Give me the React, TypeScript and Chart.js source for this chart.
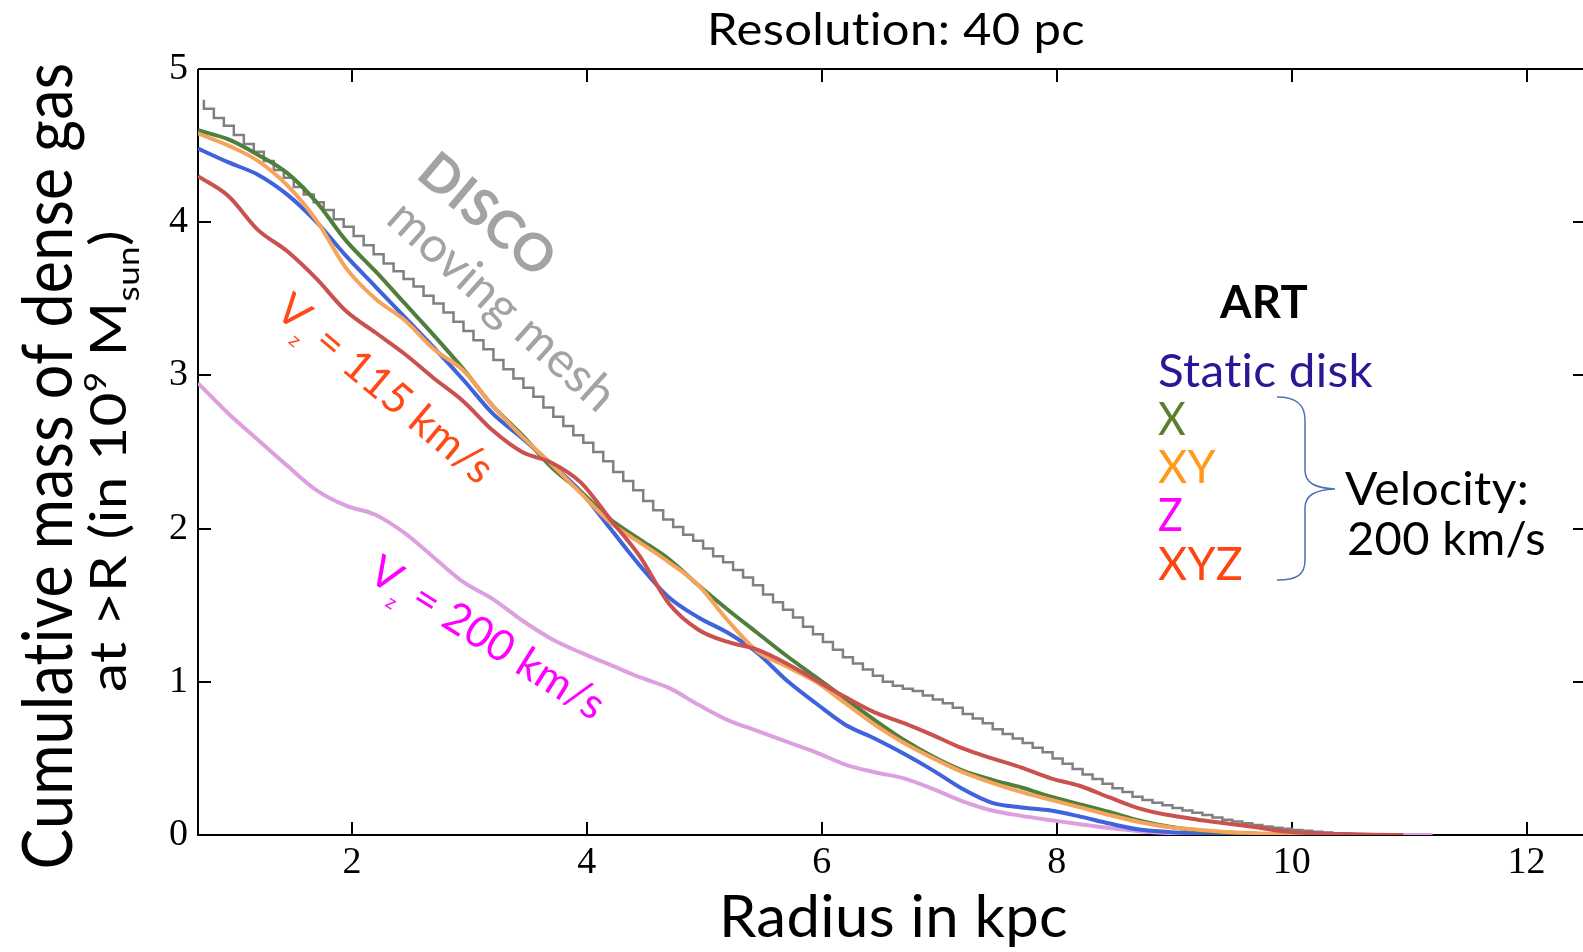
import React, { useEffect, useRef } from "react";
import { Chart, registerables } from "chart.js";
Chart.register(...registerables);

// ---- data (radius in kpc, cumulative mass in 1e9 Msun) ----
const RADIUS = [0.69, 0.95, 1.2, 1.45, 1.7, 1.95, 2.2, 2.45, 2.7, 2.95, 3.2, 3.45, 3.7, 3.95, 4.2, 4.45, 4.7, 4.95, 5.2, 5.45, 5.7, 5.95, 6.2, 6.45, 6.7, 6.95, 7.2, 7.45, 7.7, 7.95, 8.2, 8.45, 8.7, 8.95, 9.2, 9.45, 9.7, 9.95, 10.2, 10.45, 10.7, 10.95, 11.2];

const STATIC_DISK = [4.48, 4.39, 4.31, 4.18, 4.0, 3.78, 3.58, 3.38, 3.18, 2.97, 2.75, 2.59, 2.42, 2.24, 2.0, 1.76, 1.55, 1.42, 1.32, 1.19, 1.01, 0.86, 0.72, 0.63, 0.53, 0.42, 0.3, 0.21, 0.18, 0.16, 0.12, 0.075, 0.036, 0.02, 0.01, 0.004, 0, 0, 0, 0, 0, null, null];
const KICK_X = [4.6, 4.54, 4.44, 4.32, 4.13, 3.88, 3.68, 3.47, 3.26, 3.04, 2.8, 2.61, 2.4, 2.24, 2.06, 1.93, 1.8, 1.63, 1.47, 1.32, 1.17, 1.03, 0.89, 0.75, 0.62, 0.51, 0.42, 0.36, 0.31, 0.25, 0.2, 0.15, 0.095, 0.055, 0.03, 0.016, 0.007, 0.002, 0, 0, 0, null, null];
const KICK_XY = [4.58, 4.5, 4.4, 4.24, 4.01, 3.7, 3.5, 3.36, 3.17, 3.03, 2.8, 2.6, 2.42, 2.23, 2.04, 1.91, 1.78, 1.63, 1.4, 1.2, 1.1, 1.0, 0.86, 0.72, 0.6, 0.5, 0.41, 0.34, 0.28, 0.23, 0.18, 0.13, 0.085, 0.052, 0.035, 0.02, 0.012, 0.005, 0.001, 0, 0, null, null];
const KICK_Z = [2.95, 2.75, 2.58, 2.41, 2.25, 2.15, 2.09, 1.97, 1.81, 1.65, 1.54, 1.4, 1.28, 1.19, 1.11, 1.03, 0.96, 0.85, 0.75, 0.68, 0.61, 0.54, 0.46, 0.41, 0.37, 0.3, 0.22, 0.16, 0.125, 0.097, 0.07, 0.045, 0.025, 0.013, 0.008, 0.005, 0.003, 0.002, 0.001, 0.001, 0, 0, 0];
const KICK_XYZ = [4.3, 4.17, 3.95, 3.81, 3.63, 3.42, 3.28, 3.14, 2.98, 2.83, 2.64, 2.5, 2.43, 2.3, 2.06, 1.82, 1.51, 1.34, 1.26, 1.21, 1.12, 1.01, 0.9, 0.8, 0.73, 0.65, 0.565, 0.5, 0.44, 0.37, 0.32, 0.245, 0.174, 0.13, 0.1, 0.075, 0.05, 0.022, 0.012, 0.006, 0.002, 0, null];

// DISCO moving mesh: histogram bins
const DISCO_START = 0.74;
const DISCO_BIN = 0.085;
const DISCO = [4.8, 4.74, 4.68, 4.63, 4.57, 4.51, 4.46, 4.4, 4.34, 4.29, 4.23, 4.18, 4.13, 4.08, 4.02, 3.97, 3.91, 3.85, 3.79, 3.73, 3.68, 3.63, 3.58, 3.52, 3.47, 3.41, 3.35, 3.29, 3.23, 3.17, 3.1, 3.04, 2.98, 2.92, 2.86, 2.79, 2.73, 2.67, 2.61, 2.56, 2.5, 2.44, 2.37, 2.31, 2.25, 2.18, 2.12, 2.06, 2.01, 1.96, 1.92, 1.87, 1.82, 1.78, 1.73, 1.68, 1.63, 1.57, 1.52, 1.47, 1.42, 1.36, 1.31, 1.26, 1.21, 1.16, 1.12, 1.08, 1.04, 1.0, 0.975, 0.955, 0.94, 0.91, 0.885, 0.86, 0.83, 0.79, 0.76, 0.73, 0.69, 0.66, 0.63, 0.6, 0.57, 0.54, 0.5, 0.465, 0.43, 0.395, 0.365, 0.335, 0.305, 0.28, 0.25, 0.228, 0.21, 0.195, 0.177, 0.16, 0.145, 0.13, 0.115, 0.1, 0.088, 0.076, 0.066, 0.056, 0.047, 0.04, 0.033, 0.027, 0.022, 0.017, 0.012, 0.008, 0.004];

const X_TICKS = [2, 4, 6, 8, 10, 12];
const Y_TICKS = [0, 1, 2, 3, 4, 5];
const X_MIN = 0.69;
const X_MAX = 12.48;
const Y_MIN = 0;
const Y_MAX = 5;

const SANS = '"Lato", "Open Sans", sans-serif';
const SERIF = '"Liberation Serif", "DejaVu Serif", serif';

type Seg = { t: string; s?: number; dy?: number };

function drawRich(
  ctx: CanvasRenderingContext2D,
  segs: Seg[],
  o: { x: number; y: number; angle?: number; size: number; weight?: string; color: string; width?: number; align?: "left" | "center"; vcenter?: boolean }
) {
  ctx.save();
  (ctx as any).letterSpacing = "0.3px";
  ctx.translate(o.x, o.y);
  ctx.rotate(o.angle || 0);
  const weight = o.weight || "normal";
  const ws: number[] = [];
  let total = 0;
  for (const sg of segs) {
    ctx.font = `${weight} ${o.size * (sg.s ?? 1)}px ${SANS}`;
    const w = ctx.measureText(sg.t).width;
    ws.push(w);
    total += w;
  }
  const k = o.width ? o.width / total : 1;
  ctx.scale(k, 1);
  let cx = o.align === "center" ? -total / 2 : 0;
  const baseY = o.vcenter ? o.size * 0.36 : 0;
  ctx.fillStyle = o.color;
  ctx.textAlign = "left";
  ctx.textBaseline = "alphabetic";
  segs.forEach((sg, i) => {
    ctx.font = `${weight} ${o.size * (sg.s ?? 1)}px ${SANS}`;
    ctx.fillText(sg.t, cx, baseY + (sg.dy ?? 0) * o.size);
    cx += ws[i];
  });
  ctx.restore();
}

const deg = (d: number) => (d * Math.PI) / 180;

const framePlugin = {
  id: "frame",
  beforeDatasetsDraw(chart: any) {
    const { ctx, chartArea: a, scales } = chart;
    ctx.save();
    ctx.strokeStyle = "#000";
    ctx.lineWidth = 2;
    ctx.beginPath();
    ctx.moveTo(a.left, a.top);
    ctx.lineTo(a.right + 2, a.top);
    ctx.moveTo(a.left, a.top);
    ctx.lineTo(a.left, a.bottom);
    ctx.lineTo(a.right + 2, a.bottom);
    for (const v of X_TICKS) {
      const px = Math.round(scales.x.getPixelForValue(v));
      ctx.moveTo(px, a.bottom);
      ctx.lineTo(px, a.bottom - 13);
      ctx.moveTo(px, a.top);
      ctx.lineTo(px, a.top + 13);
    }
    for (const v of Y_TICKS) {
      const py = Math.round(scales.y.getPixelForValue(v));
      ctx.moveTo(a.left, py);
      ctx.lineTo(a.left + 13, py);
      ctx.moveTo(a.right, py);
      ctx.lineTo(a.right - 10, py);
    }
    ctx.stroke();
    ctx.restore();
  },
};

const textPlugin = {
  id: "texts",
  afterDatasetsDraw(chart: any) {
    const ctx: CanvasRenderingContext2D = chart.ctx;
    // title
    drawRich(ctx, [{ t: "Resolution: 40 pc" }], { x: 707, y: 45, size: 44, color: "#000", width: 378 });
    // x title
    drawRich(ctx, [{ t: "Radius in kpc" }], { x: 719, y: 937, size: 59, color: "#000", width: 349 });
    // y title
    drawRich(ctx, [{ t: "Cumulative mass of dense gas" }], { x: 72, y: 466, angle: -Math.PI / 2, size: 69, color: "#000", width: 807, align: "center" });
    drawRich(
      ctx,
      [{ t: "at >R (in 10" }, { t: "9", s: 0.6, dy: -0.4 }, { t: " M" }, { t: "sun", s: 0.6, dy: 0.25 }, { t: ")" }],
      { x: 126, y: 461, angle: -Math.PI / 2, size: 50, color: "#000", width: 462, align: "center" }
    );
    // in-plot annotations
    drawRich(ctx, [{ t: "DISCO" }], { x: 488, y: 214, angle: deg(40), size: 52, weight: "bold", color: "#a3a3a3", align: "center", vcenter: true });
    drawRich(ctx, [{ t: "moving mesh" }], { x: 503, y: 305, angle: deg(42), size: 49, color: "#a3a3a3", align: "center", vcenter: true });
    drawRich(ctx, [{ t: "V" }, { t: "z", s: 0.45, dy: 0.3 }, { t: " = 115 km/s" }], { x: 386, y: 388, angle: deg(40), size: 43, color: "#ff4a17", align: "center", vcenter: true });
    drawRich(ctx, [{ t: "V" }, { t: "z", s: 0.45, dy: 0.3 }, { t: " = 200 km/s" }], { x: 488, y: 637, angle: deg(32), size: 43, color: "#ff00ff", align: "center", vcenter: true });
    // legend block
    drawRich(ctx, [{ t: "ART" }], { x: 1220, y: 318, size: 45, weight: "bold", color: "#000", width: 88 });
    drawRich(ctx, [{ t: "Static disk" }], { x: 1158, y: 387, size: 46, color: "#2d1696", width: 215 });
    drawRich(ctx, [{ t: "X" }], { x: 1158, y: 435, size: 46, color: "#5b7f2c", width: 28 });
    drawRich(ctx, [{ t: "XY" }], { x: 1158, y: 483, size: 46, color: "#ff9a1a", width: 58 });
    drawRich(ctx, [{ t: "Z" }], { x: 1158, y: 531, size: 46, color: "#ff00ff", width: 25 });
    drawRich(ctx, [{ t: "XYZ" }], { x: 1158, y: 580, size: 46, color: "#ff4512", width: 85 });
    drawRich(ctx, [{ t: "Velocity:" }], { x: 1345, y: 505, size: 46, color: "#000", width: 184 });
    drawRich(ctx, [{ t: "200 km/s" }], { x: 1347, y: 555, size: 46, color: "#000", width: 199 });
    // brace
    ctx.save();
    ctx.strokeStyle = "#4a72b0";
    ctx.lineWidth = 1.5;
    ctx.beginPath();
    ctx.moveTo(1277, 397);
    ctx.bezierCurveTo(1297, 397, 1305, 405, 1305, 420);
    ctx.lineTo(1305, 470);
    ctx.bezierCurveTo(1305, 483, 1315, 488, 1335, 489);
    ctx.bezierCurveTo(1315, 490, 1305, 495, 1305, 508);
    ctx.lineTo(1305, 560);
    ctx.bezierCurveTo(1305, 575, 1297, 580, 1277, 580);
    ctx.stroke();
    ctx.restore();
  },
};

function series(values: (number | null)[]) {
  return RADIUS.map((x, i) => ({ x, y: values[i] })).filter((p) => p.y !== null) as { x: number; y: number }[];
}

export default function App() {
  const ref = useRef<HTMLCanvasElement>(null);
  useEffect(() => {
    const canvas = ref.current;
    if (!canvas) return;
    const line = (label: string, values: (number | null)[], color: string, order: number) => ({
      label,
      data: series(values),
      borderColor: color,
      backgroundColor: color,
      borderWidth: 4,
      pointRadius: 0,
      fill: false,
      cubicInterpolationMode: "monotone" as const,
      order,
    });
    const disco = DISCO.map((y, i) => ({ x: DISCO_START + i * DISCO_BIN, y }));
    const chart = new Chart(canvas, {
      type: "line",
      data: {
        datasets: [
          line("XYZ", KICK_XYZ, "#c9524f", 0),
          line("XY", KICK_XY, "#f6a45c", 1),
          line("X", KICK_X, "#4f7f3d", 2),
          line("Static disk", STATIC_DISK, "#3f62dd", 3),
          line("Z", KICK_Z, "#dc9fdf", 4),
          {
            label: "DISCO moving mesh",
            data: disco,
            borderColor: "#808080",
            borderWidth: 2.5,
            pointRadius: 0,
            fill: false,
            stepped: "after" as const,
            order: 5,
          },
        ],
      },
      options: {
        animation: false,
        responsive: false,
        maintainAspectRatio: false,
        layout: { padding: { top: 69, left: 0, right: 0, bottom: 0 } },
        plugins: { legend: { display: false }, tooltip: { enabled: false }, title: { display: false } },
        scales: {
          x: {
            type: "linear",
            min: X_MIN,
            max: X_MAX,
            afterBuildTicks: (s: any) => {
              s.ticks = X_TICKS.map((v) => ({ value: v }));
            },
            afterFit: (s: any) => {
              s.height = 117;
            },
            grid: { display: false, drawTicks: false },
            border: { display: false },
            ticks: {
              autoSkip: false,
              maxRotation: 0,
              padding: 5,
              color: "#000",
              font: { family: SERIF, size: 38 },
              callback: (v: any) => String(v),
            },
          },
          y: {
            type: "linear",
            min: Y_MIN,
            max: Y_MAX,
            afterBuildTicks: (s: any) => {
              s.ticks = Y_TICKS.map((v) => ({ value: v }));
            },
            afterFit: (s: any) => {
              s.width = 198;
            },
            grid: { display: false, drawTicks: false },
            border: { display: false },
            ticks: {
              autoSkip: false,
              padding: 10,
              color: "#000",
              font: { family: SERIF, size: 38 },
              callback: (v: any) => String(v),
            },
          },
        },
      },
      plugins: [framePlugin, textPlugin],
    });
    return () => chart.destroy();
  }, []);
  return (
    <div style={{ position: "absolute", left: 0, top: 0, width: 1583, height: 952, background: "#fff", overflow: "hidden" }}>
      <canvas ref={ref} width={1583} height={952} style={{ display: "block", width: 1583, height: 952 }} />
    </div>
  );
}
